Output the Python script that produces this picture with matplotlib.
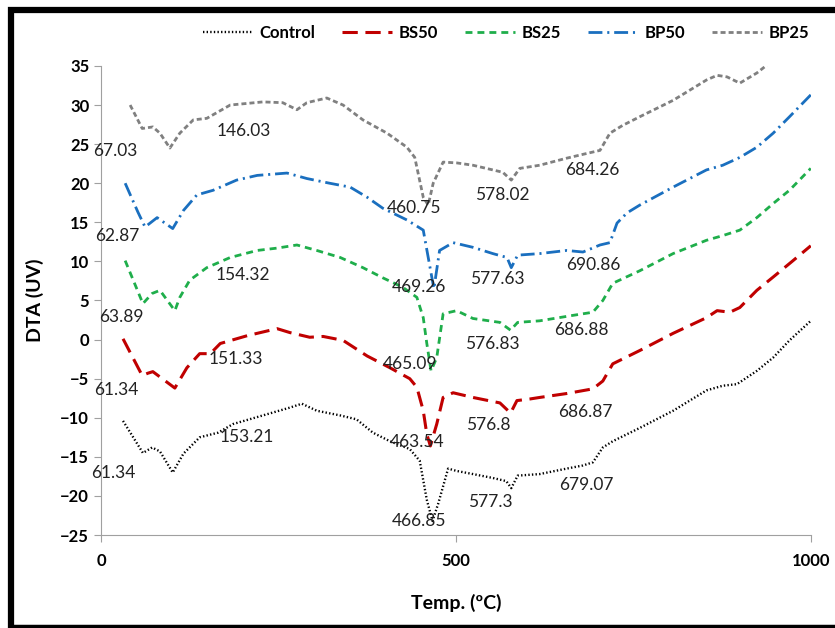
import matplotlib
matplotlib.use("Agg")
import matplotlib.pyplot as plt

plt.rcParams['font.family'] = ['Lato', 'DejaVu Sans']
plt.rcParams['lines.scale_dashes'] = False

# DTA curves, temperature (C) vs signal (UV)
control_t = [31, 59, 72, 83, 101, 116, 139, 165, 186, 228, 266, 283, 304, 337, 360, 383, 407, 435, 449, 459,
             467, 475, 489, 501, 524, 552, 571, 578, 587, 618, 656, 679, 693, 707, 721, 759, 806, 853, 876, 896,
             924, 947, 970, 1000]
control_v = [-10.4, -14.5, -13.8, -14.3, -17, -14.6, -12.5, -11.9, -10.8, -9.7, -8.7, -8.2, -9.1, -9.7, -10.2,
             -11.9, -13, -14, -15.5, -20.5, -23.2, -21, -16.5, -16.8, -17.2, -17.7, -18.1, -19, -17.4, -17.2,
             -16.5, -16.1, -15.7, -13.8, -13, -11.3, -9.1, -6.5, -5.9, -5.7, -4, -2.3, -0.1, 2.4]

bs50_t = [31, 58, 66, 73, 104, 121, 139, 154, 168, 206, 248, 266, 294, 313, 341, 375, 407, 435, 445, 454,
          459, 464, 473, 482, 496, 524, 562, 577, 586, 604, 618, 656, 693, 707, 721, 759, 806, 853, 868, 886,
          900, 924, 947, 975, 1000]
bs50_v = [0.1, -4.6, -4.3, -4.1, -6.2, -3.6, -1.8, -1.8, -0.5, 0.5, 1.4, 0.9, 0.3, 0.4, -0.1, -2.1, -3.6, -5,
          -6.1, -9.1, -12.1, -13.6, -10.8, -7.4, -6.8, -7.4, -8.1, -9.4, -7.8, -7.6, -7.4, -6.9, -6.3, -5.3,
          -3.1, -1.4, 0.8, 2.8, 3.7, 3.5, 4.1, 6.3, 8, 10.1, 12]

bs25_t = [34, 59, 72, 83, 104, 111, 125, 149, 182, 220, 248, 276, 304, 337, 369, 397, 425, 445, 454, 459,
          465, 473, 482, 501, 524, 562, 577, 587, 618, 665, 693, 707, 721, 759, 806, 853, 876, 900, 924, 947,
          970, 1000]
bs25_v = [10.1, 4.6, 5.9, 6.3, 3.7, 5.4, 7.6, 9.2, 10.5, 11.4, 11.7, 12.1, 11.4, 10.5, 9.2, 7.9, 6.7, 5.4,
          2.8, -0.5, -4, -2.3, 3.3, 3.7, 2.7, 2.2, 1.2, 2.2, 2.4, 3.1, 3.5, 5, 7.2, 8.8, 11, 12.7, 13.3, 14,
          15.6, 17.4, 19.1, 21.9]

bp50_t = [34, 52, 62, 79, 101, 116, 135, 158, 191, 220, 262, 290, 322, 351, 375, 397, 431, 454, 461, 469,
          477, 496, 524, 552, 572, 578, 587, 618, 656, 679, 703, 717, 727, 741, 759, 806, 853, 876, 900, 924,
          947, 970, 1000]
bp50_v = [20, 16.3, 14.4, 15.6, 14.2, 16.5, 18.5, 19.1, 20.4, 21, 21.3, 20.6, 20, 19.5, 18.2, 16.8, 15.3,
          14, 10.5, 6.5, 11.4, 12.4, 11.8, 11, 10.5, 9.2, 10.8, 11, 11.4, 11.2, 12.1, 12.4, 14.9, 16.2, 17.2,
          19.5, 21.7, 22.3, 23.3, 24.6, 26.4, 28.5, 31.3]

bp25_t = [41, 58, 73, 83, 97, 111, 130, 149, 182, 228, 256, 276, 290, 318, 341, 369, 403, 431, 442, 454,
          461, 468, 482, 501, 524, 566, 578, 590, 618, 656, 684, 703, 717, 735, 759, 806, 853, 868, 882, 900,
          924, 945]
bp25_v = [30, 27, 27.2, 26.4, 24.5, 26.4, 28.1, 28.3, 30, 30.4, 30.3, 29.4, 30.3, 30.9, 30, 28.1, 26.4, 24.6,
          23.3, 18.2, 17.2, 20, 22.7, 22.6, 22.3, 21.4, 20.4, 21.9, 22.3, 23.2, 23.8, 24.2, 26.4, 27.4, 28.5,
          30.6, 33.2, 33.8, 33.6, 32.8, 34.1, 35.6]

# peak temperature labels and where they sit
peak_labels = ["67.03", "146.03", "460.75", "578.02", "684.26",
               "62.87", "154.32", "469.26", "577.63", "690.86",
               "63.89", "465.09", "576.83", "686.88",
               "61.34", "151.33", "463.54", "576.8", "686.87",
               "61.34", "153.21", "466.85", "577.3", "679.07"]
peak_x = [20, 201, 441, 565, 692,
          23, 200, 448, 559, 693,
          28, 435, 552, 677,
          22, 190, 445, 545, 682,
          18, 205, 448, 548, 684]
peak_y = [24.1, 26.7, 16.8, 18.5, 21.7,
          13.2, 8.2, 6.7, 7.8, 9.6,
          2.9, -3.1, -0.5, 1.2,
          -6.5, -2.5, -13.1, -10.9, -9.3,
          -17.1, -12.4, -23.2, -20.8, -18.6]

fig = plt.figure(figsize=(8.35, 6.28), dpi=100)
ax = fig.add_axes([0.121, 0.148, 0.850, 0.747])

ax.plot(control_t, control_v, color='black', lw=1.7, dashes=(1.0, 1.6), label='Control')
ax.plot(bs50_t, bs50_v, color='#c00000', lw=2.2, dashes=(11, 5.5), label='BS50')
ax.plot(bs25_t, bs25_v, color='#1fae4b', lw=2.0, dashes=(5, 3.6), label='BS25')
ax.plot(bp50_t, bp50_v, color='#1a6fbf', lw=2.0, dashes=(10, 3.5, 1.5, 3.5), label='BP50')
ax.plot(bp25_t, bp25_v, color='#808080', lw=2.0, dashes=(3.6, 2.2), label='BP25')

for txt, x, y in zip(peak_labels, peak_x, peak_y):
    ax.text(x, y, txt, fontsize=12.5, ha='center', va='center', color='#222222')

ax.set_xlim(0, 1000)
ax.set_ylim(-25, 35)
ax.set_xticks([0, 500, 1000])
ax.set_yticks(range(-25, 36, 5))
ax.tick_params(axis='both', length=5, color='#a0a0a0', labelsize=12)
ax.tick_params(axis='x', pad=8)
for lbl in ax.get_xticklabels() + ax.get_yticklabels():
    lbl.set_fontweight('bold')
for side in ['top', 'right']:
    ax.spines[side].set_visible(False)
for side in ['left', 'bottom']:
    ax.spines[side].set_color('#a0a0a0')

ax.set_xlabel('Temp. (ºC)', fontsize=14, fontweight='bold', labelpad=18)
ax.set_ylabel('DTA (UV)', fontsize=14, fontweight='bold', labelpad=12)

fig.legend(loc='center', bbox_to_anchor=(0.606, 0.947), ncol=5, frameon=False,
           prop={'weight': 'bold', 'size': 12}, handlelength=3.0, handletextpad=0.4,
           columnspacing=1.6)

# black frame around the whole figure, drawn on an overlay in pixel units
frame_ax = fig.add_axes([0, 0, 1, 1], zorder=10)
frame_ax.set_xlim(0, 835)
frame_ax.set_ylim(628, 0)
frame_ax.axis('off')
frame_ax.patch.set_alpha(0)
frame_ax.plot([11, 11, 840], [626, 10, 10], color='black', lw=4.5, solid_joinstyle='miter')
frame_ax.plot([11, 840], [626, 626], color='black', lw=2.5)

fig.savefig('out.png', dpi=100)
